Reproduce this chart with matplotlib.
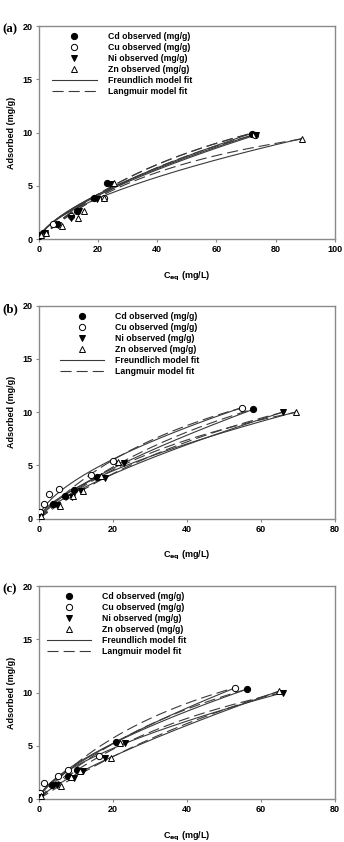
import numpy as np
from matplotlib import pyplot as plt
from matplotlib.lines import Line2D

plt.rcParams["font.family"] = ["Liberation Sans", "DejaVu Sans"]
plt.rcParams["font.weight"] = "bold"

metals = ["Cd", "Cu", "Ni", "Zn"]

# ---- panel (a) observations ----
a_cd_c = [0.2, 1.5, 6.0, 12.8, 18.7, 23.1, 72.0]
a_cd_q = [0.3, 0.6, 1.4, 2.6, 3.9, 5.3, 9.9]
a_cu_c = [0.5, 2.0, 4.8, 11.0, 22.0, 73.0]
a_cu_q = [0.4, 0.6, 1.4, 2.2, 3.9, 9.8]
a_ni_c = [0.3, 2.0, 6.5, 11.0, 13.5, 19.8, 24.0, 73.5]
a_ni_q = [0.3, 0.6, 1.3, 2.0, 2.6, 3.8, 5.2, 9.8]
a_zn_c = [0.8, 2.5, 7.8, 13.2, 15.4, 22.0, 25.3, 89.0]
a_zn_q = [0.4, 0.6, 1.2, 2.0, 2.6, 3.9, 5.3, 9.4]

# ---- panel (b) observations ----
b_cd_c = [0.0, 3.9, 7.1, 9.6, 15.6, 58.0]
b_cd_q = [0.25, 1.35, 2.1, 2.7, 3.95, 10.3]
b_cu_c = [0.2, 1.4, 2.7, 5.4, 14.0, 20.1, 54.8]
b_cu_q = [0.6, 1.4, 2.3, 2.8, 4.1, 5.4, 10.4]
b_ni_c = [0.4, 5.0, 9.0, 11.5, 17.9, 23.0, 66.0]
b_ni_q = [0.2, 1.25, 2.0, 2.6, 3.85, 5.2, 10.0]
b_zn_c = [0.7, 5.7, 9.3, 12.0, 16.8, 21.4, 69.6]
b_zn_q = [0.25, 1.2, 2.1, 2.6, 4.0, 5.3, 10.0]

# ---- panel (c) observations ----
c_cd_c = [0.0, 3.6, 7.9, 10.2, 20.9, 56.3]
c_cd_q = [0.2, 1.35, 2.15, 2.7, 5.35, 10.3]
c_cu_c = [0.3, 1.4, 5.1, 7.9, 16.2, 53.0]
c_cu_q = [0.55, 1.5, 2.2, 2.7, 4.0, 10.45]
c_ni_c = [0.4, 5.0, 9.5, 12.0, 18.0, 23.4, 66.0]
c_ni_q = [0.2, 1.3, 2.0, 2.6, 3.85, 5.25, 10.0]
c_zn_c = [0.7, 5.9, 8.7, 11.0, 19.5, 21.9, 64.8]
c_zn_q = [0.25, 1.2, 2.1, 2.6, 3.9, 5.25, 10.1]

# fitted parameters per metal (Cd, Cu, Ni, Zn)
a_kf = [0.566, 0.58, 0.55, 0.62]
a_inv_n = [0.67, 0.66, 0.67, 0.607]
a_qmax = [20.8, 21.0, 22.0, 15.9]
a_kl = [0.0127, 0.0125, 0.011, 0.01625]

b_kf = [0.53, 0.87, 0.468, 0.65]
b_inv_n = [0.73, 0.62, 0.731, 0.645]
b_qmax = [25.2, 21.3, 24.7, 19.1]
b_kl = [0.0119, 0.0174, 0.0103, 0.01575]

c_kf = [0.719, 0.62, 0.74, 0.375]
c_inv_n = [0.661, 0.711, 0.621, 0.79]
c_qmax = [22.7, 21.0, 19.9, 31.9]
c_kl = [0.0148, 0.0187, 0.01533, 0.00713]

panels = [
    ("(a)", [(a_cd_c, a_cd_q), (a_cu_c, a_cu_q), (a_ni_c, a_ni_q), (a_zn_c, a_zn_q)],
     (a_kf, a_inv_n, a_qmax, a_kl), 100, [0, 20, 40, 60, 80, 100]),
    ("(b)", [(b_cd_c, b_cd_q), (b_cu_c, b_cu_q), (b_ni_c, b_ni_q), (b_zn_c, b_zn_q)],
     (b_kf, b_inv_n, b_qmax, b_kl), 80, [0, 20, 40, 60, 80]),
    ("(c)", [(c_cd_c, c_cd_q), (c_cu_c, c_cu_q), (c_ni_c, c_ni_q), (c_zn_c, c_zn_q)],
     (c_kf, c_inv_n, c_qmax, c_kl), 80, [0, 20, 40, 60, 80]),
]

markers = [dict(marker="o", mfc="black", mec="black"),
           dict(marker="o", mfc="white", mec="black"),
           dict(marker="v", mfc="black", mec="black"),
           dict(marker="^", mfc="white", mec="black")]

fig = plt.figure(figsize=(3.44, 8.42), dpi=100)
bottoms = [0.716, 0.384, 0.051]
leg_x = [0.045, 0.070, 0.027]
curve_col = "#3a3a3a"
frame_col = "#8a8a8a"
dash = (0, (10, 4.5))

for p, (tag, obs, pars, xmax, xticks) in enumerate(panels):
    ax = fig.add_axes([0.113, bottoms[p], 0.860, 0.253])
    kf, inv_n, qmax, kl = pars
    for i in range(4):
        c = np.array(obs[i][0])
        xs = np.linspace(0, c.max(), 200)
        ax.plot(xs, kf[i] * xs ** inv_n[i], color=curve_col, lw=0.8, zorder=2)
        ax.plot(xs, qmax[i] * kl[i] * xs / (1 + kl[i] * xs), color=curve_col,
                lw=0.8, ls=dash, zorder=2)
    for i in range(4):
        ax.plot(obs[i][0], obs[i][1], ls="none", ms=4.5, mew=0.7, zorder=3,
                **markers[i])

    ax.set_xlim(0, xmax)
    ax.set_ylim(0, 20)
    ax.set_xticks(xticks)
    ax.set_yticks([0, 5, 10, 15, 20])
    for s in ax.spines.values():
        s.set_color(frame_col)
        s.set_linewidth(1.0)
    ax.tick_params(direction="out", length=2.5, width=0.8, color=frame_col,
                   labelsize=6.5, pad=2)
    for lab in ax.get_xticklabels() + ax.get_yticklabels():
        lab.set_fontweight("bold")
    ax.set_ylabel("Adsorbed (mg/g)", fontsize=6.5, fontweight="bold", labelpad=5)
    ax.set_xlabel(r"C$_{\mathbf{eq}}$ (mg/L)", fontsize=6.5, fontweight="bold",
                  labelpad=11)

    handles = [Line2D([], [], ls="none", ms=4.5, mew=0.7, **markers[i]) for i in range(4)]
    handles.append(Line2D([], [], color=curve_col, lw=0.8))
    handles.append(Line2D([], [], color=curve_col, lw=0.8, ls=dash))
    labels = [m + " observed (mg/g)" for m in metals] + ["Freundlich model fit",
                                                         "Langmuir model fit"]
    ax.legend(handles, labels, loc="upper left", bbox_to_anchor=(leg_x[p], 0.97),
              frameon=False, handlelength=5.1, handletextpad=1.25,
              labelspacing=0.22, borderpad=0, borderaxespad=0,
              prop={"weight": "bold", "size": 6.3})

    y_top = bottoms[p] + 0.253
    fig.text(0.008, y_top - 0.004, tag, family="Liberation Serif", fontsize=9.3,
             fontweight="bold", va="center", ha="left")

fig.savefig("out.png", dpi=100)
